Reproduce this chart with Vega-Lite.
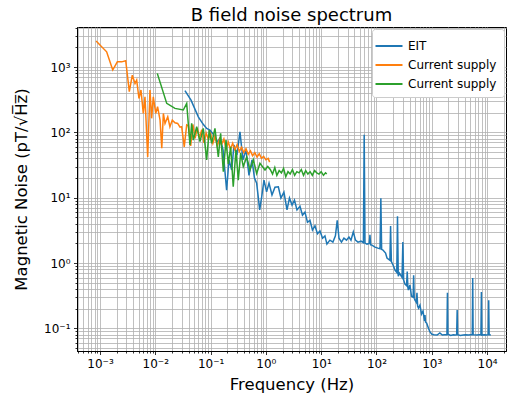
{
  "$schema": "https://vega.github.io/schema/vega-lite/v6.json",
  "width": 429,
  "height": 324,
  "autosize": {"type": "none"},
  "padding": {"left": 77, "top": 27, "right": 3, "bottom": 47},
  "title": {"text": "B field noise spectrum", "fontSize": 18, "fontWeight": "normal", "font": "DejaVu Sans", "color": "black", "offset": -3},
  "config": {"font": "DejaVu Sans", "view": {"stroke": "black", "strokeWidth": 1}},
  "data": {"values": [
    {"series":"EIT","freq":0.0344,"noise":434},{"series":"EIT","freq":0.0443,"noise":312},{"series":"EIT","freq":0.060,"noise":173},{"series":"EIT","freq":0.073,"noise":134},{"series":"EIT","freq":0.085,"noise":115},{"series":"EIT","freq":0.0975,"noise":108},{"series":"EIT","freq":0.115,"noise":91},{"series":"EIT","freq":0.131,"noise":71},{"series":"EIT","freq":0.148,"noise":82},{"series":"EIT","freq":0.168,"noise":54},{"series":"EIT","freq":0.195,"noise":13},{"series":"EIT","freq":0.215,"noise":38},{"series":"EIT","freq":0.241,"noise":26.5},{"series":"EIT","freq":0.265,"noise":64},{"series":"EIT","freq":0.300,"noise":45},{"series":"EIT","freq":0.340,"noise":102},{"series":"EIT","freq":0.385,"noise":38},{"series":"EIT","freq":0.436,"noise":54},{"series":"EIT","freq":0.495,"noise":22},{"series":"EIT","freq":0.561,"noise":38},{"series":"EIT","freq":0.622,"noise":20},{"series":"EIT","freq":0.682,"noise":16.6},{"series":"EIT","freq":0.773,"noise":6.5},{"series":"EIT","freq":0.840,"noise":10.3},{"series":"EIT","freq":0.924,"noise":18.6},{"series":"EIT","freq":1.03,"noise":12.3},{"series":"EIT","freq":1.14,"noise":16.7},{"series":"EIT","freq":1.29,"noise":11},{"series":"EIT","freq":1.46,"noise":14.5},{"series":"EIT","freq":1.68,"noise":14.7},{"series":"EIT","freq":1.87,"noise":9.9},{"series":"EIT","freq":2.12,"noise":12.2},{"series":"EIT","freq":2.41,"noise":6.5},{"series":"EIT","freq":2.67,"noise":9.9},{"series":"EIT","freq":2.97,"noise":7.7},{"series":"EIT","freq":3.29,"noise":9.2},{"series":"EIT","freq":3.65,"noise":6.5},{"series":"EIT","freq":4.14,"noise":7.4},{"series":"EIT","freq":4.59,"noise":5.4},{"series":"EIT","freq":5.09,"noise":6.0},{"series":"EIT","freq":5.65,"noise":4.2},{"series":"EIT","freq":6.27,"noise":4.5},{"series":"EIT","freq":6.96,"noise":3.2},{"series":"EIT","freq":7.72,"noise":3.7},{"series":"EIT","freq":8.57,"noise":2.8},{"series":"EIT","freq":9.51,"noise":3.1},{"series":"EIT","freq":10.6,"noise":2.4},{"series":"EIT","freq":11.7,"noise":2.6},{"series":"EIT","freq":12.7,"noise":1.95},{"series":"EIT","freq":14.4,"noise":2.24},{"series":"EIT","freq":16.3,"noise":2.09},{"series":"EIT","freq":18.1,"noise":2.6},{"series":"EIT","freq":19.5,"noise":4.5},{"series":"EIT","freq":21.0,"noise":2.4},{"series":"EIT","freq":23.3,"noise":2.09},{"series":"EIT","freq":25.8,"noise":2.4},{"series":"EIT","freq":28.7,"noise":2.24},{"series":"EIT","freq":31.8,"noise":2.5},{"series":"EIT","freq":34.6,"noise":2.24},{"series":"EIT","freq":38.1,"noise":3.0},{"series":"EIT","freq":41.7,"noise":2.24},{"series":"EIT","freq":46.3,"noise":2.09},{"series":"EIT","freq":52.5,"noise":2.16},{"series":"EIT","freq":58,"noise":2.05},{"series":"EIT","freq":60,"noise":92},{"series":"EIT","freq":62,"noise":2.02},{"series":"EIT","freq":67.3,"noise":1.95},{"series":"EIT","freq":74,"noise":2.0},{"series":"EIT","freq":76.2,"noise":2.7},{"series":"EIT","freq":78.5,"noise":1.9},{"series":"EIT","freq":82.8,"noise":1.88},{"series":"EIT","freq":94,"noise":1.75},{"series":"EIT","freq":106,"noise":1.69},{"series":"EIT","freq":116,"noise":1.65},{"series":"EIT","freq":120,"noise":9.8},{"series":"EIT","freq":124,"noise":1.62},{"series":"EIT","freq":131,"noise":1.58},{"series":"EIT","freq":146,"noise":1.42},{"series":"EIT","freq":155,"noise":1.19},{"series":"EIT","freq":175,"noise":1.1},{"series":"EIT","freq":180,"noise":3.7},{"series":"EIT","freq":186,"noise":1.05},{"series":"EIT","freq":203,"noise":0.90},{"series":"EIT","freq":216,"noise":0.78},{"series":"EIT","freq":233,"noise":0.72},{"series":"EIT","freq":240,"noise":5.2},{"series":"EIT","freq":248,"noise":0.63},{"series":"EIT","freq":260,"noise":0.70},{"series":"EIT","freq":290,"noise":0.6},{"series":"EIT","freq":300,"noise":2.1},{"series":"EIT","freq":310,"noise":0.55},{"series":"EIT","freq":327,"noise":0.475},{"series":"EIT","freq":350,"noise":0.45},{"series":"EIT","freq":360,"noise":0.74},{"series":"EIT","freq":370,"noise":0.42},{"series":"EIT","freq":378,"noise":0.385},{"series":"EIT","freq":403,"noise":0.46},{"series":"EIT","freq":430,"noise":0.31},{"series":"EIT","freq":460,"noise":0.30},{"series":"EIT","freq":470,"noise":0.65},{"series":"EIT","freq":482,"noise":0.29},{"series":"EIT","freq":497,"noise":0.27},{"series":"EIT","freq":525,"noise":0.25},{"series":"EIT","freq":540,"noise":0.35},{"series":"EIT","freq":555,"noise":0.22},{"series":"EIT","freq":576,"noise":0.204},{"series":"EIT","freq":612,"noise":0.226},{"series":"EIT","freq":652,"noise":0.165},{"series":"EIT","freq":694,"noise":0.183},{"series":"EIT","freq":740,"noise":0.13},{"series":"EIT","freq":754,"noise":0.16},{"series":"EIT","freq":770,"noise":0.125},{"series":"EIT","freq":809,"noise":0.12},{"series":"EIT","freq":872,"noise":0.10},{"series":"EIT","freq":927,"noise":0.088},{"series":"EIT","freq":1007,"noise":0.081},{"series":"EIT","freq":1100,"noise":0.08},{"series":"EIT","freq":1250,"noise":0.079},{"series":"EIT","freq":1400,"noise":0.085},{"series":"EIT","freq":1550,"noise":0.079},{"series":"EIT","freq":1700,"noise":0.08},{"series":"EIT","freq":1880,"noise":0.08},{"series":"EIT","freq":1920,"noise":0.35},{"series":"EIT","freq":1960,"noise":0.081},{"series":"EIT","freq":2200,"noise":0.078},{"series":"EIT","freq":2450,"noise":0.08},{"series":"EIT","freq":2650,"noise":0.079},{"series":"EIT","freq":2820,"noise":0.08},{"series":"EIT","freq":2880,"noise":0.19},{"series":"EIT","freq":2940,"noise":0.08},{"series":"EIT","freq":3300,"noise":0.078},{"series":"EIT","freq":3700,"noise":0.079},{"series":"EIT","freq":4100,"noise":0.08},{"series":"EIT","freq":4600,"noise":0.079},{"series":"EIT","freq":5100,"noise":0.08},{"series":"EIT","freq":5400,"noise":0.08},{"series":"EIT","freq":5500,"noise":0.59},{"series":"EIT","freq":5600,"noise":0.08},{"series":"EIT","freq":6500,"noise":0.079},{"series":"EIT","freq":7200,"noise":0.08},{"series":"EIT","freq":7750,"noise":0.08},{"series":"EIT","freq":7900,"noise":0.36},{"series":"EIT","freq":8050,"noise":0.079},{"series":"EIT","freq":9000,"noise":0.08},{"series":"EIT","freq":9800,"noise":0.079},{"series":"EIT","freq":10500,"noise":0.08},{"series":"EIT","freq":10700,"noise":0.27},{"series":"EIT","freq":10900,"noise":0.08},{"series":"EIT","freq":11700,"noise":0.079},
    {"series":"Current supply","freq":0.00085,"noise":2500},{"series":"Current supply","freq":0.00132,"noise":1710},{"series":"Current supply","freq":0.0017,"noise":900},{"series":"Current supply","freq":0.00206,"noise":1200},{"series":"Current supply","freq":0.00247,"noise":1200},{"series":"Current supply","freq":0.00292,"noise":1250},{"series":"Current supply","freq":0.00339,"noise":420},{"series":"Current supply","freq":0.00384,"noise":750},{"series":"Current supply","freq":0.0043,"noise":560},{"series":"Current supply","freq":0.00461,"noise":630},{"series":"Current supply","freq":0.00507,"noise":330},{"series":"Current supply","freq":0.00551,"noise":445},{"series":"Current supply","freq":0.00607,"noise":195},{"series":"Current supply","freq":0.00651,"noise":350},{"series":"Current supply","freq":0.00729,"noise":42},{"series":"Current supply","freq":0.00802,"noise":445},{"series":"Current supply","freq":0.0086,"noise":164},{"series":"Current supply","freq":0.0092,"noise":350},{"series":"Current supply","freq":0.0102,"noise":195},{"series":"Current supply","freq":0.0110,"noise":247},{"series":"Current supply","freq":0.0122,"noise":154},{"series":"Current supply","freq":0.0131,"noise":57},{"series":"Current supply","freq":0.0140,"noise":195},{"series":"Current supply","freq":0.0150,"noise":137},{"series":"Current supply","freq":0.0168,"noise":173},{"series":"Current supply","freq":0.0184,"noise":122},{"series":"Current supply","freq":0.0203,"noise":154},{"series":"Current supply","freq":0.0227,"noise":140},{"series":"Current supply","freq":0.0254,"noise":137},{"series":"Current supply","freq":0.0280,"noise":120},{"series":"Current supply","freq":0.030,"noise":122},{"series":"Current supply","freq":0.0334,"noise":60},{"series":"Current supply","freq":0.037,"noise":130},{"series":"Current supply","freq":0.0398,"noise":126},{"series":"Current supply","freq":0.0437,"noise":62},{"series":"Current supply","freq":0.0479,"noise":132},{"series":"Current supply","freq":0.0525,"noise":81},{"series":"Current supply","freq":0.0575,"noise":117},{"series":"Current supply","freq":0.0631,"noise":83},{"series":"Current supply","freq":0.0692,"noise":110},{"series":"Current supply","freq":0.0759,"noise":69},{"series":"Current supply","freq":0.0832,"noise":98},{"series":"Current supply","freq":0.0912,"noise":78},{"series":"Current supply","freq":0.100,"noise":95},{"series":"Current supply","freq":0.110,"noise":68},{"series":"Current supply","freq":0.120,"noise":87},{"series":"Current supply","freq":0.132,"noise":62},{"series":"Current supply","freq":0.145,"noise":79},{"series":"Current supply","freq":0.158,"noise":65},{"series":"Current supply","freq":0.174,"noise":79},{"series":"Current supply","freq":0.191,"noise":56},{"series":"Current supply","freq":0.209,"noise":71},{"series":"Current supply","freq":0.229,"noise":55},{"series":"Current supply","freq":0.251,"noise":68},{"series":"Current supply","freq":0.275,"noise":54},{"series":"Current supply","freq":0.302,"noise":65},{"series":"Current supply","freq":0.331,"noise":51},{"series":"Current supply","freq":0.363,"noise":59},{"series":"Current supply","freq":0.398,"noise":49},{"series":"Current supply","freq":0.437,"noise":56},{"series":"Current supply","freq":0.479,"noise":46},{"series":"Current supply","freq":0.525,"noise":52},{"series":"Current supply","freq":0.575,"noise":44},{"series":"Current supply","freq":0.631,"noise":49},{"series":"Current supply","freq":0.692,"noise":42},{"series":"Current supply","freq":0.759,"noise":47},{"series":"Current supply","freq":0.832,"noise":40},{"series":"Current supply","freq":0.912,"noise":43},{"series":"Current supply","freq":1.0,"noise":38},{"series":"Current supply","freq":1.10,"noise":40},{"series":"Current supply","freq":1.17,"noise":35},
    {"series":"Current supply 2","freq":0.01087,"noise":800},{"series":"Current supply 2","freq":0.0161,"noise":278},{"series":"Current supply 2","freq":0.0227,"noise":233},{"series":"Current supply 2","freq":0.0321,"noise":220},{"series":"Current supply 2","freq":0.0370,"noise":278},{"series":"Current supply 2","freq":0.0424,"noise":64},{"series":"Current supply 2","freq":0.0455,"noise":137},{"series":"Current supply 2","freq":0.0486,"noise":76},{"series":"Current supply 2","freq":0.0561,"noise":122},{"series":"Current supply 2","freq":0.0643,"noise":72},{"series":"Current supply 2","freq":0.0738,"noise":115},{"series":"Current supply 2","freq":0.0849,"noise":38},{"series":"Current supply 2","freq":0.0946,"noise":108},{"series":"Current supply 2","freq":0.1047,"noise":68},{"series":"Current supply 2","freq":0.120,"noise":115},{"series":"Current supply 2","freq":0.138,"noise":42},{"series":"Current supply 2","freq":0.152,"noise":97},{"series":"Current supply 2","freq":0.170,"noise":25},{"series":"Current supply 2","freq":0.190,"noise":76},{"series":"Current supply 2","freq":0.209,"noise":33},{"series":"Current supply 2","freq":0.231,"noise":60},{"series":"Current supply 2","freq":0.257,"noise":14.7},{"series":"Current supply 2","freq":0.288,"noise":54},{"series":"Current supply 2","freq":0.317,"noise":18.6},{"series":"Current supply 2","freq":0.350,"noise":48},{"series":"Current supply 2","freq":0.390,"noise":30},{"series":"Current supply 2","freq":0.450,"noise":42},{"series":"Current supply 2","freq":0.516,"noise":26.5},{"series":"Current supply 2","freq":0.592,"noise":38},{"series":"Current supply 2","freq":0.682,"noise":23.5},{"series":"Current supply 2","freq":0.782,"noise":33.5},{"series":"Current supply 2","freq":0.964,"noise":26.5},{"series":"Current supply 2","freq":1.08,"noise":30},{"series":"Current supply 2","freq":1.20,"noise":27},{"series":"Current supply 2","freq":1.32,"noise":23},{"series":"Current supply 2","freq":1.45,"noise":29},{"series":"Current supply 2","freq":1.58,"noise":22},{"series":"Current supply 2","freq":1.74,"noise":26},{"series":"Current supply 2","freq":1.91,"noise":24},{"series":"Current supply 2","freq":2.09,"noise":28},{"series":"Current supply 2","freq":2.29,"noise":21},{"series":"Current supply 2","freq":2.51,"noise":25},{"series":"Current supply 2","freq":2.75,"noise":23},{"series":"Current supply 2","freq":3.02,"noise":27},{"series":"Current supply 2","freq":3.31,"noise":22},{"series":"Current supply 2","freq":3.63,"noise":25},{"series":"Current supply 2","freq":3.98,"noise":24},{"series":"Current supply 2","freq":4.37,"noise":27},{"series":"Current supply 2","freq":4.79,"noise":22},{"series":"Current supply 2","freq":5.25,"noise":26},{"series":"Current supply 2","freq":5.75,"noise":23},{"series":"Current supply 2","freq":6.31,"noise":25},{"series":"Current supply 2","freq":6.92,"noise":22},{"series":"Current supply 2","freq":7.59,"noise":26},{"series":"Current supply 2","freq":8.32,"noise":24},{"series":"Current supply 2","freq":9.12,"noise":23},{"series":"Current supply 2","freq":10.0,"noise":25},{"series":"Current supply 2","freq":11.0,"noise":22},{"series":"Current supply 2","freq":12.0,"noise":24},{"series":"Current supply 2","freq":12.6,"noise":23}
  ]},
  "mark": {"type": "line", "strokeWidth": 1.5, "clip": true},
  "encoding": {
    "x": {"field": "freq", "type": "quantitative",
      "scale": {"type": "log", "domain": [0.000384, 22000], "nice": false},
      "axis": {
        "title": "Frequency (Hz)", "titleFontSize": 16.5, "titleFontWeight": "normal", "titleColor": "black", "titlePadding": 7,
        "values": [0.0004,0.0005,0.0006,0.0007,0.0008,0.0009,0.001,0.002,0.003,0.004,0.005,0.006,0.007,0.008,0.009,0.01,0.02,0.03,0.04,0.05,0.06,0.07,0.08,0.09,0.1,0.2,0.3,0.4,0.5,0.6,0.7,0.8,0.9,1,2,3,4,5,6,7,8,9,10,20,30,40,50,60,70,80,90,100,200,300,400,500,600,700,800,900,1000,2000,3000,4000,5000,6000,7000,8000,9000,10000,20000],
        "labelExpr": "abs(log(datum.value)/LN10 - round(log(datum.value)/LN10)) < 0.01 ? '10' + ({'-4':'⁻⁴','-3':'⁻³','-2':'⁻²','-1':'⁻¹','0':'⁰','1':'¹','2':'²','3':'³','4':'⁴'})['' + round(log(datum.value)/LN10)] : ''",
        "labelOverlap": false, "labelFontSize": 12, "labelColor": "black", "labelPadding": 3.5, "labelFlush": false,
        "grid": true, "gridColor": "#b0b0b0", "gridWidth": 0.8,
        "domainColor": "black", "tickColor": "black", "tickWidth": 0.8,
        "tickSize": {"condition": {"test": "abs(log(datum.value)/LN10 - round(log(datum.value)/LN10)) < 0.01", "value": 3.5}, "value": 2}
      }},
    "y": {"field": "noise", "type": "quantitative",
      "scale": {"type": "log", "domain": [0.045, 4100], "nice": false},
      "axis": {
        "title": "Magnetic Noise (pT/√H̅z̅)", "titleFontSize": 16.5, "titleFontWeight": "normal", "titleColor": "black", "titlePadding": 14,
        "values": [0.05,0.06,0.07,0.08,0.09,0.1,0.2,0.3,0.4,0.5,0.6,0.7,0.8,0.9,1,2,3,4,5,6,7,8,9,10,20,30,40,50,60,70,80,90,100,200,300,400,500,600,700,800,900,1000,2000,3000,4000],
        "labelExpr": "abs(log(datum.value)/LN10 - round(log(datum.value)/LN10)) < 0.01 ? '10' + ({'-4':'⁻⁴','-3':'⁻³','-2':'⁻²','-1':'⁻¹','0':'⁰','1':'¹','2':'²','3':'³','4':'⁴'})['' + round(log(datum.value)/LN10)] : ''",
        "labelOverlap": false, "labelFontSize": 12, "labelColor": "black", "labelPadding": 3.5, "labelFlush": false,
        "grid": true, "gridColor": "#b0b0b0", "gridWidth": 0.8,
        "domainColor": "black", "tickColor": "black", "tickWidth": 0.8,
        "tickSize": {"condition": {"test": "abs(log(datum.value)/LN10 - round(log(datum.value)/LN10)) < 0.01", "value": 3.5}, "value": 2}
      }},
    "color": {"field": "series", "type": "nominal",
      "scale": {"domain": ["EIT", "Current supply", "Current supply 2"], "range": ["#1f77b4", "#ff7f0e", "#2ca02c"]},
      "legend": {"title": null, "orient": "top-right", "offset": 2, "labelExpr": "datum.label == 'Current supply 2' ? 'Current supply' : datum.label",
        "fillColor": "white", "strokeColor": "#cccccc", "padding": 7, "cornerRadius": 3,
        "symbolType": "M-1.5,0H1.5", "symbolSize": 324, "symbolStrokeWidth": 2, "labelFontSize": 12, "labelColor": "black", "rowPadding": 3, "labelOffset": 9}}
  }
}
